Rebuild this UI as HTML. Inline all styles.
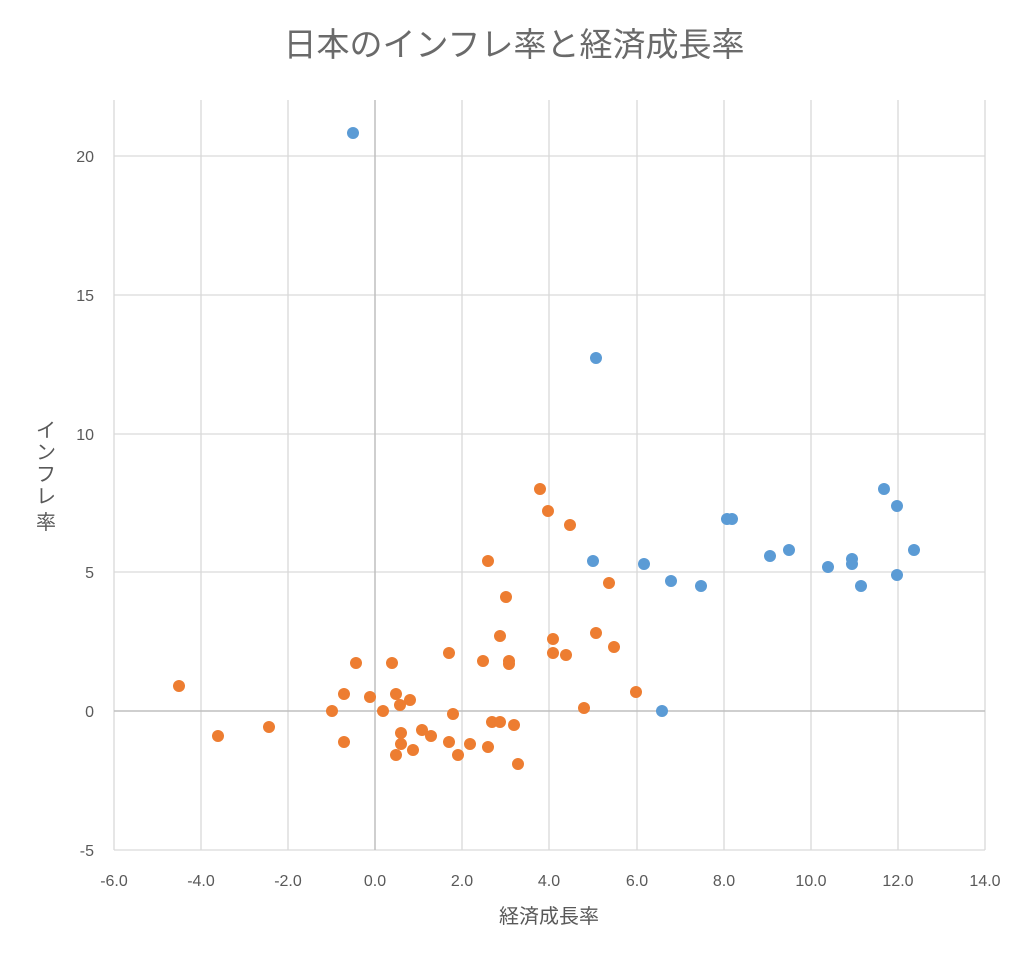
<!DOCTYPE html>
<html><head><meta charset="utf-8"><style>body{margin:0;background:#fff}svg{display:block}text{font-family:"Liberation Sans","Noto Sans CJK JP",sans-serif;fill:#595959}</style></head><body>
<svg width="1024" height="962" xmlns="http://www.w3.org/2000/svg">
<rect width="1024" height="962" fill="#fff"/>
<text x="514" y="56" font-size="33" text-anchor="middle" style="fill:#6a6a6a">日本のインフレ率と経済成長率</text>
<g stroke="#d9d9d9" stroke-width="1.3">
<line x1="114" y1="100" x2="114" y2="850"/><line x1="201" y1="100" x2="201" y2="850"/><line x1="288" y1="100" x2="288" y2="850"/><line x1="462" y1="100" x2="462" y2="850"/><line x1="549" y1="100" x2="549" y2="850"/><line x1="637" y1="100" x2="637" y2="850"/><line x1="724" y1="100" x2="724" y2="850"/><line x1="811" y1="100" x2="811" y2="850"/><line x1="898" y1="100" x2="898" y2="850"/><line x1="985" y1="100" x2="985" y2="850"/>
<line x1="114" y1="156" x2="985" y2="156"/><line x1="114" y1="295" x2="985" y2="295"/><line x1="114" y1="434" x2="985" y2="434"/><line x1="114" y1="572" x2="985" y2="572"/><line x1="114" y1="850" x2="985" y2="850"/>
</g>
<g stroke="#bfbfbf" stroke-width="1.5"><line x1="375" y1="100" x2="375" y2="850"/><line x1="114" y1="711" x2="985" y2="711"/></g>
<g font-size="16" text-anchor="end">
<text x="94" y="162">20</text><text x="94" y="301">15</text><text x="94" y="440">10</text><text x="94" y="578">5</text><text x="94" y="717">0</text><text x="94" y="856">-5</text></g>
<g font-size="16" text-anchor="middle">
<text x="114" y="886">-6.0</text><text x="201" y="886">-4.0</text><text x="288" y="886">-2.0</text><text x="375" y="886">0.0</text><text x="462" y="886">2.0</text><text x="549" y="886">4.0</text><text x="637" y="886">6.0</text><text x="724" y="886">8.0</text><text x="811" y="886">10.0</text><text x="898" y="886">12.0</text><text x="985" y="886">14.0</text></g>
<text x="549" y="923" font-size="20" text-anchor="middle">経済成長率</text>
<g font-size="20" text-anchor="middle"><text x="46" y="437">イ</text><text x="46" y="459">ン</text><text x="46" y="481">フ</text><text x="46" y="503">レ</text><text x="46" y="529">率</text></g>
<g fill="#5b9bd5">
<circle cx="353" cy="133" r="6"/><circle cx="596" cy="358" r="6"/><circle cx="593" cy="561" r="6"/><circle cx="644" cy="564" r="6"/><circle cx="671" cy="581" r="6"/><circle cx="701" cy="586" r="6"/><circle cx="727" cy="519" r="6"/><circle cx="732" cy="519" r="6"/><circle cx="770" cy="556" r="6"/><circle cx="789" cy="550" r="6"/><circle cx="828" cy="567" r="6"/><circle cx="852" cy="559" r="6"/><circle cx="852" cy="564" r="6"/><circle cx="861" cy="586" r="6"/><circle cx="884" cy="489" r="6"/><circle cx="897" cy="506" r="6"/><circle cx="897" cy="575" r="6"/><circle cx="914" cy="550" r="6"/><circle cx="662" cy="711" r="6"/>
</g>
<g fill="#ed7d31">
<circle cx="179" cy="686" r="6"/><circle cx="218" cy="736" r="6"/><circle cx="269" cy="727" r="6"/><circle cx="332" cy="711" r="6"/><circle cx="344" cy="694" r="6"/><circle cx="344" cy="742" r="6"/><circle cx="356" cy="663" r="6"/><circle cx="370" cy="697" r="6"/><circle cx="383" cy="711" r="6"/><circle cx="392" cy="663" r="6"/><circle cx="396" cy="694" r="6"/><circle cx="396" cy="755" r="6"/><circle cx="400" cy="705" r="6"/><circle cx="401" cy="733" r="6"/><circle cx="401" cy="744" r="6"/><circle cx="410" cy="700" r="6"/><circle cx="413" cy="750" r="6"/><circle cx="422" cy="730" r="6"/><circle cx="431" cy="736" r="6"/><circle cx="449" cy="653" r="6"/><circle cx="449" cy="742" r="6"/><circle cx="453" cy="714" r="6"/><circle cx="458" cy="755" r="6"/><circle cx="470" cy="744" r="6"/><circle cx="483" cy="661" r="6"/><circle cx="488" cy="561" r="6"/><circle cx="488" cy="747" r="6"/><circle cx="492" cy="722" r="6"/><circle cx="500" cy="722" r="6"/><circle cx="500" cy="636" r="6"/><circle cx="506" cy="597" r="6"/><circle cx="509" cy="661" r="6"/><circle cx="509" cy="664" r="6"/><circle cx="514" cy="725" r="6"/><circle cx="518" cy="764" r="6"/><circle cx="540" cy="489" r="6"/><circle cx="548" cy="511" r="6"/><circle cx="553" cy="639" r="6"/><circle cx="553" cy="653" r="6"/><circle cx="566" cy="655" r="6"/><circle cx="570" cy="525" r="6"/><circle cx="584" cy="708" r="6"/><circle cx="596" cy="633" r="6"/><circle cx="609" cy="583" r="6"/><circle cx="614" cy="647" r="6"/><circle cx="636" cy="692" r="6"/>
</g>
</svg>
</body></html>
